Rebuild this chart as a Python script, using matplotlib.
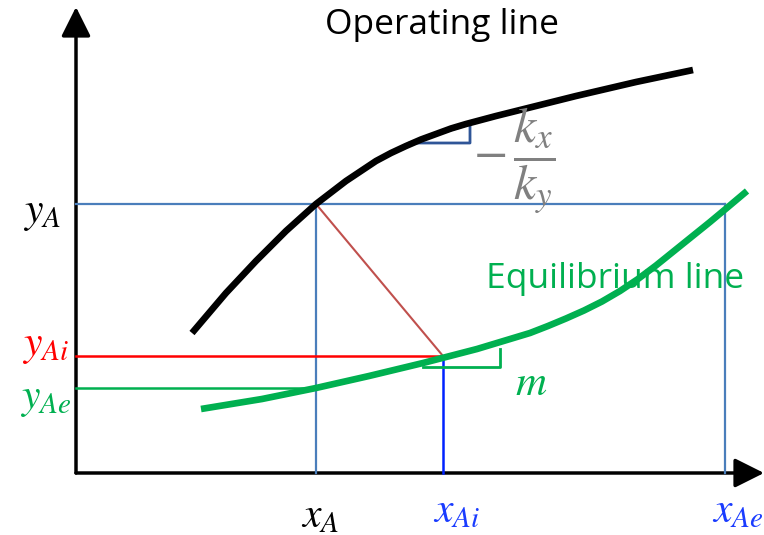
import matplotlib
matplotlib.use("Agg")
import matplotlib.pyplot as plt
from matplotlib.patches import FancyArrowPatch

plt.rcParams["mathtext.fontset"] = "stix"

# Curves of the mass-transfer diagram (x: liquid composition, y: gas composition)
operating_x = [116, 150, 180, 210, 240, 270, 300, 315, 330, 345, 360, 375, 390, 420, 460, 500, 560, 617]
operating_y = [140, 180, 212, 242, 269, 292, 312, 320, 327, 333.5, 339, 344.5, 349, 357, 367, 377, 391, 403]

equilibrium_x = [125, 186, 240, 293, 347, 401, 454, 472, 490, 508, 526, 544, 562, 580,
                 598, 616, 634, 652, 671]
equilibrium_y = [64, 74, 85, 97, 110, 124, 140, 147, 154.5, 162.5, 171.5, 182, 194, 207.5,
                 222, 236.5, 251, 266, 282]

# Characteristic compositions
x_A, x_Ai, x_Ae = 240, 367, 649
y_A, y_Ai, y_Ae = 269, 117, 85

# Slope triangles
op_tri_x = [334, 394, 394, 334]
op_tri_y = [330, 349, 330, 330]
eq_tri_x = [347, 424, 424]
eq_tri_y = [106, 106, 124]

fig = plt.figure(figsize=(7.64, 5.35), dpi=100)
ax = fig.add_axes([0, 0, 1, 1])
ax.set_xlim(-76, 688)
ax.set_ylim(-62, 473)
ax.axis("off")

steel = "#4a7ebb"
green = "#00b050"
blue = "#1a3cff"

# Axes with arrowheads
ax.add_patch(FancyArrowPatch((0, 0), (688, 0), arrowstyle="-|>,head_length=12,head_width=6",
                             lw=2.5, color="black", mutation_scale=1.5, shrinkA=0, shrinkB=0))
ax.add_patch(FancyArrowPatch((0, 0), (0, 466), arrowstyle="-|>,head_length=12,head_width=6",
                             lw=2.5, color="black", mutation_scale=1.5, shrinkA=0, shrinkB=0))

# Guide lines
ax.plot([0, x_Ae], [y_A, y_A], color=steel, lw=1.6)
ax.plot([x_A, x_A], [0, y_A], color=steel, lw=1.6)
ax.plot([x_Ae, x_Ae], [0, y_A], color=steel, lw=1.6)
ax.plot([x_Ai, x_Ai], [0, y_Ai], color="#0022ff", lw=1.8)
ax.plot([0, x_Ai], [y_Ai, y_Ai], color="#ff0000", lw=1.8)
ax.plot([0, x_A], [y_Ae, y_Ae], color=green, lw=1.8)
ax.plot([x_A, x_Ai], [y_A, y_Ai], color="#c0504d", lw=1.5)

# Slope triangles
ax.plot(op_tri_x, op_tri_y, color="#2f5597", lw=2)
ax.plot(eq_tri_x, eq_tri_y, color=green, lw=2)

# Curves
ax.plot(operating_x, operating_y, color="black", lw=4.8,
        solid_capstyle="butt", solid_joinstyle="round")
ax.plot(equilibrium_x, equilibrium_y, color=green, lw=4.8,
        solid_capstyle="butt", solid_joinstyle="round")

# Text
ax.text(366, 439, "Operating line", fontsize=25.5, family="Open Sans",
        ha="center", va="baseline", color="black")
ax.text(410, 185, "Equilibrium line", fontsize=25.5, family="Open Sans",
        ha="left", va="baseline", color=green)

ax.text(-34, 261, r"$y_A$", fontsize=30, ha="center", va="center", color="black")
ax.text(-31, 128, r"$y_{Ai}$", fontsize=30, ha="center", va="center", color="#ff0000")
ax.text(-30, 75, r"$y_{Ae}$", fontsize=30, ha="center", va="center", color=green)
ax.text(244, -42, r"$x_A$", fontsize=30, ha="center", va="center", color="black")
ax.text(381, -37, r"$x_{Ai}$", fontsize=30, ha="center", va="center", color=blue)
ax.text(662, -37, r"$x_{Ae}$", fontsize=30, ha="center", va="center", color=blue)
ax.text(438, 312, r"$-\,\dfrac{k_x}{k_y}$", fontsize=36, ha="center", va="center", color="#808080")
ax.text(455, 90, r"$m$", fontsize=31, ha="center", va="center", color=green)

fig.savefig("out.png", dpi=100)
